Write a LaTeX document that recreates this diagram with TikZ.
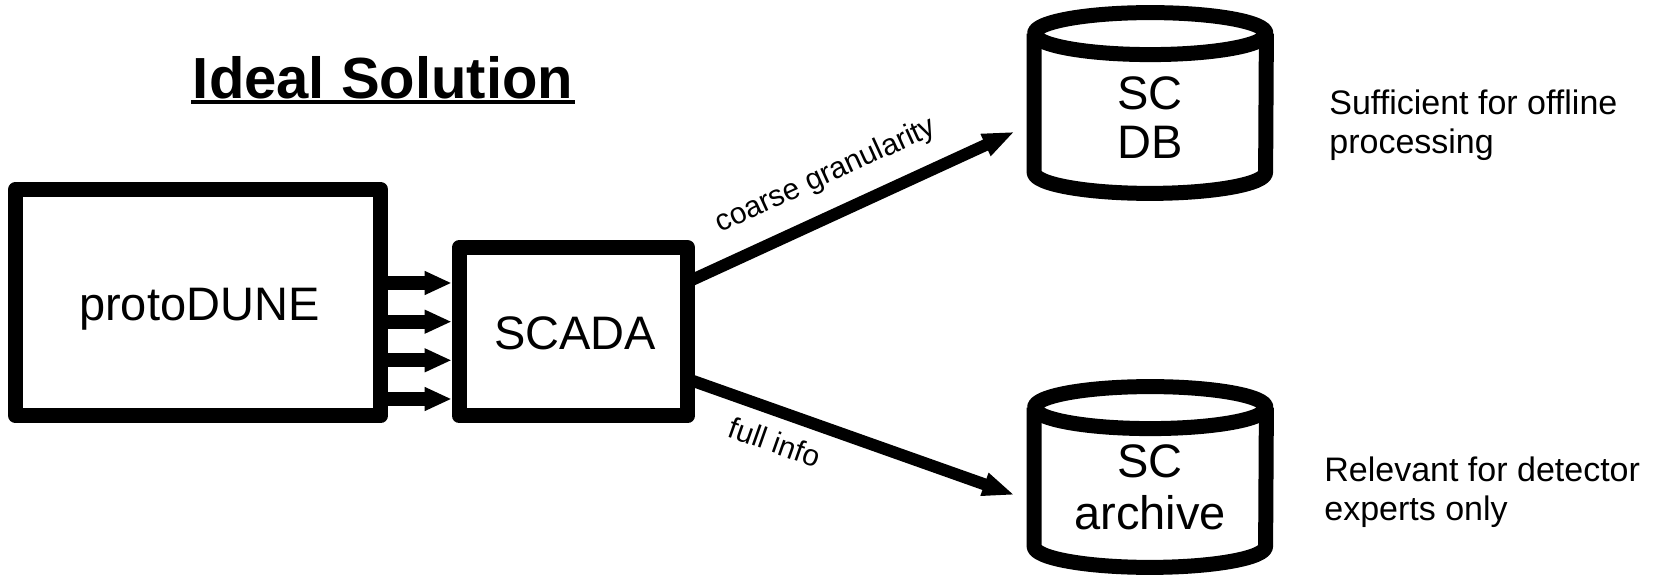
\documentclass[tikz,border=0pt]{standalone}
\usepackage{fontspec}
\setmainfont{Liberation Sans}
\usetikzlibrary{arrows.meta,calc}
\newcommand{\twoL}[3]{\begin{tabular}[t]{@{}#1@{}}#2\\#3\end{tabular}}
\begin{document}
\begin{tikzpicture}[x=0.5pt,y=-0.5pt,
  box/.style={draw, line width=7.5pt, line join=round, inner sep=0pt},
  cylbox/.style={inner sep=0pt, minimum width=115.75pt, minimum height=90pt},
  cyl/.style={draw, line width=7.5pt, line join=round},
  bigtxt/.style={inner sep=0pt, anchor=base, font=\fontsize{23.5}{24.5}\selectfont},
  sidetxt/.style={inner sep=0pt, anchor=base west, font=\fontsize{17}{19.5}\selectfont},
  lab/.style={inner sep=0pt, font=\fontsize{15}{18}\selectfont},
  feed/.style={line width=7pt, -{Triangle[length=13.5pt, width=11pt]}},
  flow/.style={line width=6pt, -{Triangle[length=16pt, width=11pt]}}
]
\useasboundingbox (0,0) rectangle (1661,576);

% title
\node[inner sep=0pt, anchor=base, font=\fontsize{29}{32}\selectfont\bfseries] (title) at (383,98.3) {Ideal Solution};
\draw[line width=2pt] ($(title.base west)+(-1,3.7)$) -- ($(title.base east)+(1,3.7)$);

% boxes
\node[box, minimum width=182.35pt, minimum height=113.4pt] (proto) at (198.15,302.6) {};
\node[bigtxt] (protot) at (199.3,321) {protoDUNE};
\node[box, minimum width=114.15pt, minimum height=84.25pt] (scada) at (573.35,331.75) {};
\node[bigtxt] (scadat) at (575,349.3) {SCADA};

% cylinders
\node[cylbox] (db) at (1150.25,103) {};
\node[cylbox] (arch) at (1150.25,477) {};
\foreach \c in {db,arch}{
  \draw[cyl] ($(\c.north west)+(0,21)$) -- ($(\c.south west)+(0,-21)$)
    arc[start angle=180, end angle=0, x radius=115.75, y radius=21]
    -- ($(\c.north east)+(0,21)$);
  \draw[cyl] ($(\c.north)+(0,21)$) ellipse [x radius=115.75, y radius=21];
}
\node[bigtxt, font=\fontsize{23.5}{24.5}\selectfont] (dbt) at (1150,110) {\twoL{c}{SC}{DB}};
\node[bigtxt, font=\fontsize{23.5}{26}\selectfont] (archt) at (1150,478) {\twoL{c}{SC}{archive}};

% feed arrows
\foreach \yy in {283,321.7,360.3,399}{
  \coordinate (fy) at (0,\yy);
  \draw[feed] (proto.east |- fy) -- (scada.west |- fy);
}

% flow arrows
\coordinate (s1) at ($(scada.east)+(-7.5,-49.75)$);
\coordinate (e1) at ($(db.west)+(-19.5,28.7)$);
\coordinate (s2) at ($(scada.east)+(-7.5,47.25)$);
\coordinate (e2) at ($(arch.west)+(-19.5,18)$);
\draw[flow] (s1) -- (e1);
\draw[flow] (s2) -- (e2);
\node[lab, rotate=24.6] (l1) at (826,176) {coarse granularity};
\node[lab, rotate=-19.5] (l2) at (775,442) {full info};

% side notes
\node[sidetxt] (n1) at (1329,115) {\twoL{l}{Sufficient for offline}{processing}};
\node[sidetxt] (n2) at (1324,481.5) {\twoL{l}{Relevant for detector}{experts only}};
\end{tikzpicture}
\end{document}
